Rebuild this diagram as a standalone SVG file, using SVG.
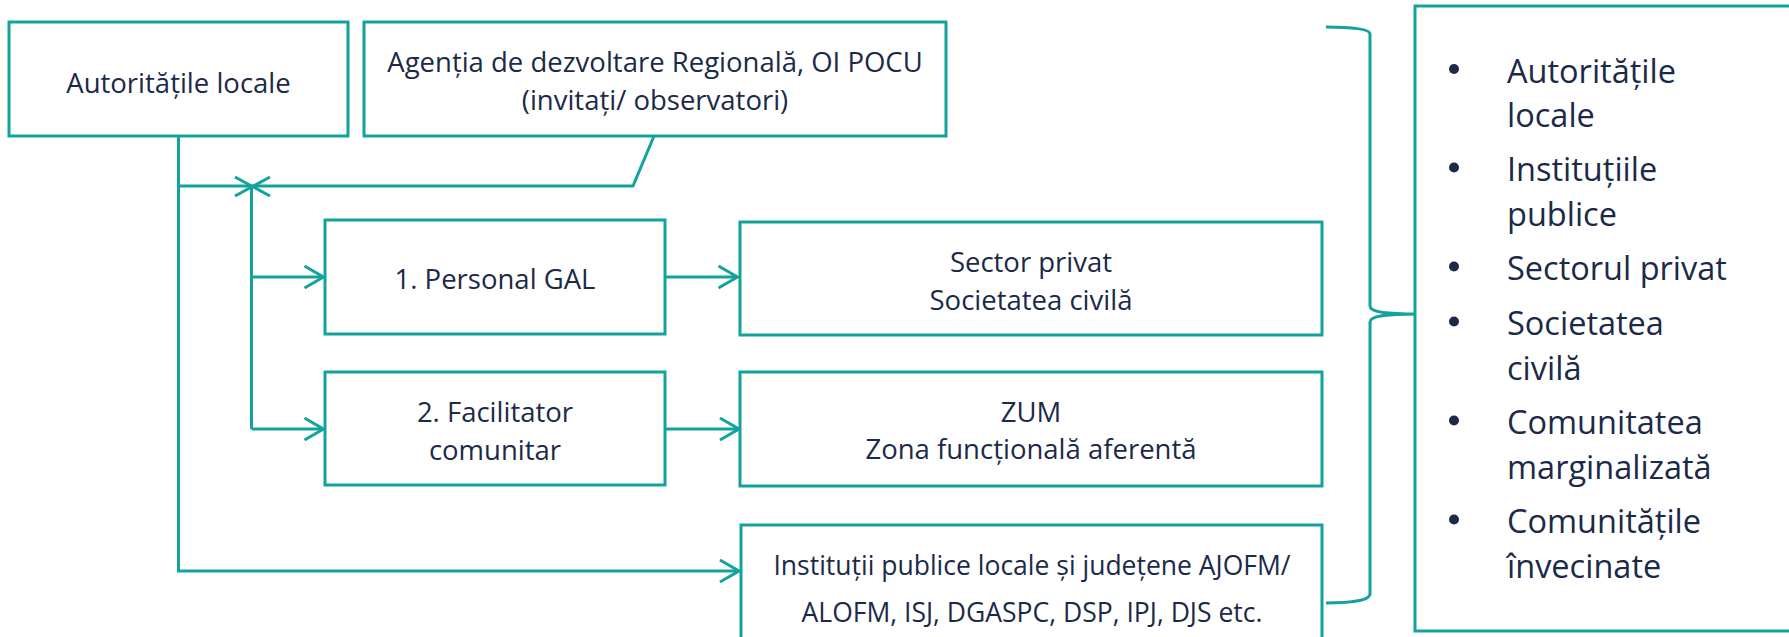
<svg xmlns="http://www.w3.org/2000/svg" width="1789" height="637" viewBox="0 0 1789 637">
<style>
.box{fill:#ffffff;stroke:#13a39c;stroke-width:3}
.ln{fill:none;stroke:#13a39c;stroke-width:3}
.t{font-family:"Open Sans","Liberation Sans",sans-serif;font-size:27.5px;fill:#1b2a48;text-anchor:middle}
.s{font-size:26.5px}
.r{font-family:"Open Sans","Liberation Sans",sans-serif;font-size:32.5px;fill:#1b2a48}
.dot{fill:#1b2a48}
</style>
<defs>
<marker id="arr" markerUnits="userSpaceOnUse" markerWidth="26" markerHeight="28" viewBox="-22 -14 26 28" refX="0" refY="0" orient="auto">
<path d="M-19,-11 L0,0 L-19,11" fill="none" stroke="#13a39c" stroke-width="3"/>
</marker>
</defs>
<rect width="1789" height="637" fill="#ffffff"/>
<g id="connectors">
<path class="ln" d="M178.5,136 L178.5,571 L739,571" marker-end="url(#arr)"/>
<path class="ln" d="M178.5,186 L633,186 L654,136"/>
<path class="ln" d="M235,177 L270,196 M235,196 L270,177"/>
<path class="ln" d="M251.5,186 L251.5,429"/>
<path class="ln" d="M251.5,277 L323.5,277" marker-end="url(#arr)"/>
<path class="ln" d="M251.5,429 L323.5,429" marker-end="url(#arr)"/>
<path class="ln" d="M665,277 L737.5,277" marker-end="url(#arr)"/>
<path class="ln" d="M665,429 L739,429" marker-end="url(#arr)"/>
<path class="ln" d="M1326,27 C1352,27 1370,29 1370,34 L1370,306 C1370,312 1386,314 1417,314 C1386,314 1370,316 1370,322 L1370,594 C1370,600 1352,603 1326,603"/>
</g>
<g id="n-autoritati">
<rect class="box" x="9" y="22" width="339" height="114"/>
<text class="t" x="178.5" y="92.5">Autoritățile locale</text>
</g>
<g id="n-agentia">
<rect class="box" x="364" y="22" width="582" height="114"/>
<text class="t" x="655" y="72">Agenția de dezvoltare Regională, OI POCU</text>
<text class="t" x="655" y="110">(invitați/ observatori)</text>
</g>
<g id="n-personal">
<rect class="box" x="325" y="220" width="340" height="114"/>
<text class="t" x="495" y="289">1. Personal GAL</text>
</g>
<g id="n-facilitator">
<rect class="box" x="325" y="372" width="340" height="113"/>
<text class="t" x="495" y="421.5">2. Facilitator</text>
<text class="t" x="495" y="460">comunitar</text>
</g>
<g id="n-sector">
<rect class="box" x="740" y="222" width="582" height="113"/>
<text class="t" x="1031" y="271.5">Sector privat</text>
<text class="t" x="1031" y="310">Societatea civilă</text>
</g>
<g id="n-zum">
<rect class="box" x="740" y="372" width="582" height="114"/>
<text class="t" x="1031" y="421.5">ZUM</text>
<text class="t" x="1031" y="459">Zona funcțională aferentă</text>
</g>
<g id="n-institutii">
<rect class="box" x="741" y="525" width="581" height="130"/>
<text class="t s" x="1032" y="575">Instituții publice locale și județene AJOFM/</text>
<text class="t s" x="1032" y="621.5">ALOFM, ISJ, DGASPC, DSP, IPJ, DJS etc.</text>
</g>
<g id="n-lista">
<rect class="box" x="1415" y="6" width="400" height="625"/>
<circle class="dot" cx="1454" cy="69" r="5"/>
<text class="r" x="1507" y="82.5">Autoritățile</text>
<text class="r" x="1507" y="127">locale</text>
<circle class="dot" cx="1454" cy="167.5" r="5"/>
<text class="r" x="1507" y="181">Instituțiile</text>
<text class="r" x="1507" y="225.5">publice</text>
<circle class="dot" cx="1454" cy="266.5" r="5"/>
<text class="r" x="1507" y="280">Sectorul privat</text>
<circle class="dot" cx="1454" cy="321.5" r="5"/>
<text class="r" x="1507" y="335">Societatea</text>
<text class="r" x="1507" y="380">civilă</text>
<circle class="dot" cx="1454" cy="420.5" r="5"/>
<text class="r" x="1507" y="434">Comunitatea</text>
<text class="r" x="1507" y="479">marginalizată</text>
<circle class="dot" cx="1454" cy="519.5" r="5"/>
<text class="r" x="1507" y="533">Comunitățile</text>
<text class="r" x="1507" y="578">învecinate</text>
</g>
</svg>
